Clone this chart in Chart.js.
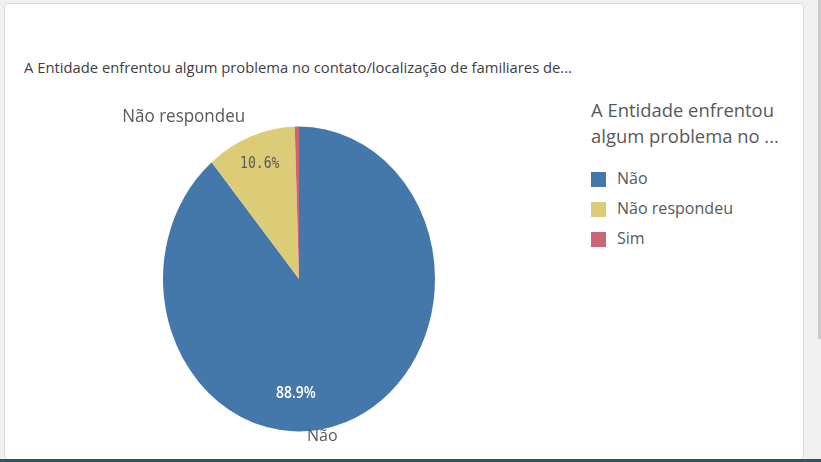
<!DOCTYPE html>
<html>
<head>
<meta charset="utf-8">
<script src="https://cdn.jsdelivr.net/npm/chart.js@4"></script>
<style>
  html, body { margin: 0; padding: 0; }
  body { width: 821px; height: 462px; background: #f0f0f0; position: relative; overflow: hidden; font-family: "Open Sans", sans-serif; }
  #card { position: absolute; left: 4px; top: 3px; width: 798px; height: 455px; background: #fff; border: 1px solid #dcdcdc; border-radius: 4px; }
  #thumb { position: absolute; left: 818px; top: 0; width: 3px; height: 339px; background: #c8c8c8; }
  #bar { position: absolute; left: 0; top: 459px; width: 821px; height: 3px; background: #1f5c5c; }
  .fit { position: absolute; white-space: nowrap; transform-origin: 0 0; color: #595959; }
  #title { left: 24px; top: 57px; font-size: 15px; color: #404040; }
  .lt { left: 591px; font-size: 19px; }
  .sw { position: absolute; left: 591px; width: 15px; height: 15px; }
  .li { left: 617px; font-size: 17px; }
  #pie { position: absolute; left: 0; top: 80px; }
</style>
</head>
<body>
<div id="card"></div>
<div id="thumb"></div>
<div id="bar"></div>
<div id="title" class="fit" data-w="548">A Entidade enfrentou algum problema no contato/localização de familiares de...</div>
<div id="legend"></div>
<canvas id="pie" width="560" height="380"></canvas>
<script>
const categories = ["Não", "Não respondeu", "Sim"];
const percentages = [88.9, 10.6, 0.5];
const colors = ["#4477aa", "#ddcc77", "#cc6677"];
const legendTitle = ["A Entidade enfrentou", "algum problema no ..."];

// legend, built as html
const legend = document.getElementById("legend");
legendTitle.forEach(function (line, i) {
    const d = document.createElement("div");
    d.className = "fit lt";
    d.style.top = (97 + i * 26) + "px";
    d.textContent = line;
    if (i === 0) d.dataset.w = "183";
    legend.appendChild(d);
});
categories.forEach(function (c, i) {
    const sw = document.createElement("div");
    sw.className = "sw";
    sw.style.top = (172 + i * 30) + "px";
    sw.style.background = colors[i];
    legend.appendChild(sw);
    const t = document.createElement("div");
    t.className = "fit li";
    t.style.top = (166 + i * 30) + "px";
    t.textContent = c;
    if (i === 1) t.dataset.w = "116";
    legend.appendChild(t);
});

// squeeze text to the width it has in the picture, same factor per group
["#title", ".lt", ".li"].forEach(function (sel) {
    const els = document.querySelectorAll(sel);
    let k = 1;
    els.forEach(function (el) {
        if (el.dataset.w) k = parseFloat(el.dataset.w) / el.getBoundingClientRect().width;
    });
    els.forEach(function (el) { el.style.transform = "scaleX(" + k + ")"; });
    if (sel === ".li") sx = k;
});
var sx;

const SY = 1.121; // the pie is a bit taller than wide

const stretch = {
    id: "stretch",
    beforeDatasetsDraw(chart) {
        const a = chart.getDatasetMeta(0).data[0];
        const ctx = chart.ctx;
        ctx.save();
        ctx.translate(a.x, a.y);
        ctx.scale(1, SY);
        ctx.translate(-a.x, -a.y);
    },
    afterDatasetsDraw(chart) {
        chart.ctx.restore();
        drawLabels(chart);
    }
};

function drawLabels(chart) {
    const ctx = chart.ctx;
    chart.getDatasetMeta(0).data.forEach(function (a, i) {
        const v = percentages[i];
        if (v < 2) return;
        let mid = (a.startAngle + a.endAngle) / 2;
        if (v > 50) mid = Math.PI / 2; // big slice: label straight down
        const r = a.outerRadius;
        const cx = Math.cos(mid), cy = Math.sin(mid);
        // percentage inside
        ctx.save();
        ctx.textAlign = "center";
        ctx.textBaseline = "middle";
        const ri = v > 50 ? 0.75 * r : 0.81 * r;
        const ix = a.x + cx * ri - (v > 50 ? 3 : 0), iy = a.y + cy * ri * SY;
        if (v > 50) {
            ctx.font = "600 17px 'Open Sans'";
            ctx.fillStyle = "#ffffff";
        } else {
            ctx.font = "16px 'DejaVu Sans Mono'";
            ctx.fillStyle = "#595959";
        }
        ctx.translate(ix, iy);
        ctx.scale(0.82, 1);
        ctx.fillText(v.toFixed(1) + "%", 0, 0);
        ctx.restore();
        // category outside
        ctx.save();
        const ox = a.x + cx * (r + 4), oy = a.y + cy * (r + 4) * SY;
        ctx.fillStyle = "#595959";
        ctx.textBaseline = "middle";
        let tx = ox, ty = oy;
        if (cy < 0) ty -= 15;
        if (cx < -0.1) {
            ctx.font = "18px 'Open Sans'";
            ctx.textAlign = "right"; tx -= 4;
        } else {
            ctx.font = "17px 'Open Sans'";
            ctx.textAlign = "left"; tx += 8;
        }
        ctx.translate(tx, ty);
        ctx.scale(sx, 1);
        ctx.fillText(categories[i], 0, 0);
        ctx.restore();
    });
}

new Chart(document.getElementById("pie").getContext("2d"), {
    type: "pie",
    data: {
        labels: categories,
        datasets: [
            {
                data: percentages,
                backgroundColor: colors,
                borderWidth: 0,
            },
        ],
    },
    options: {
        responsive: false,
        animation: false,
        rotation: 0,
        layout: { padding: { left: 163, right: 125, top: 63, bottom: 45 } },
        plugins: {
            legend: { display: false },
            tooltip: { enabled: false },
        },
    },
    plugins: [stretch],
});
</script>
</body>
</html>
